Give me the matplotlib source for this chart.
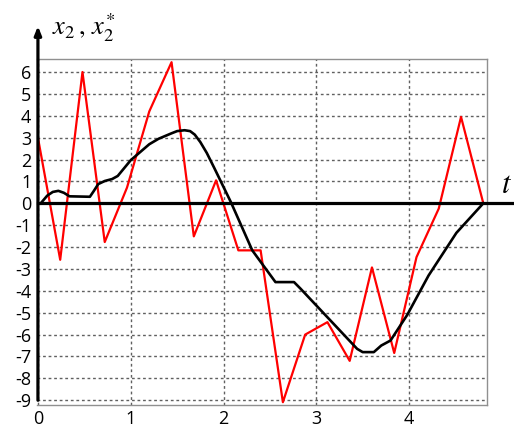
import numpy as np
import matplotlib
matplotlib.use('Agg')
import matplotlib.pyplot as plt

plt.rcParams['font.family'] = ['Open Sans', 'DejaVu Sans']
plt.rcParams['mathtext.fontset'] = 'stix'
plt.rcParams['axes.unicode_minus'] = False

# red curve: x2 (piecewise linear, step 0.24)
t_red = [0, 0.24, 0.48, 0.72, 0.96, 1.2, 1.44, 1.68, 1.92, 2.16, 2.4,
         2.64, 2.88, 3.12, 3.36, 3.6, 3.84, 4.08, 4.32, 4.56, 4.8]
x_red = [3.0, -2.58, 6.0, -1.77, 0.72, 4.2, 6.45, -1.51, 1.05, -2.15, -2.15,
         -9.09, -6.0, -5.43, -7.2, -2.93, -6.84, -2.46, -0.24, 3.95, 0.0]

# black curve: x2*
t_blk = [0.03, 0.1, 0.16, 0.22, 0.28, 0.34, 0.56, 0.6, 0.65, 0.72, 0.8,
         0.86, 1.0, 1.2, 1.3, 1.44, 1.5, 1.58, 1.64, 1.69, 1.75, 1.82, 1.9,
         2.08, 2.31, 2.56, 2.76, 2.83, 3.44, 3.5, 3.62, 3.7, 3.8, 3.98,
         4.21, 4.51, 4.8]
x_blk = [0.0, 0.35, 0.52, 0.57, 0.48, 0.32, 0.3, 0.55, 0.88, 1.02, 1.11,
         1.25, 1.97, 2.7, 2.95, 3.2, 3.3, 3.34, 3.3, 3.14, 2.8, 2.3, 1.62,
         0.05, -2.15, -3.6, -3.6, -3.9, -6.65, -6.8, -6.8, -6.5, -6.27,
         -5.1, -3.3, -1.35, 0.0]

x_ticks = [0, 1, 2, 3, 4]
y_ticks = list(range(-9, 7))

fig = plt.figure(figsize=(5.14, 4.3), dpi=100)
ax = fig.add_axes([0.072, 0.059, 0.8755, 0.803])

ax.set_xlim(-0.01, 4.84)
ax.set_ylim(-9.2, 6.58)
ax.set_xticks(x_ticks)
ax.set_yticks(y_ticks)
ax.tick_params(length=0, labelsize=13, pad=4)

ax.grid(True, color='#606060', linestyle=(0, (2, 2)), linewidth=1)
ax.set_axisbelow(True)
for s in ['top', 'right', 'bottom']:
    ax.spines[s].set_color('#909090')
    ax.spines[s].set_linewidth(1)
ax.spines['left'].set_visible(False)

ax.plot(t_red, x_red, color='red', lw=1.6, zorder=3)
ax.plot(t_blk, x_blk, color='black', lw=1.9, zorder=4, solid_joinstyle='round')

# zero line extending past the frame
ax.plot([0, 5.15], [0, 0], color='black', lw=2.3, clip_on=False, zorder=5)

# vertical axis with arrow
ax.annotate('', xy=(0, 8.1), xytext=(0, -9.0), xycoords='data',
            arrowprops=dict(arrowstyle='-|>,head_length=0.5,head_width=0.2',
                            color='black', lw=2.3, shrinkA=0, shrinkB=0),
            annotation_clip=False, zorder=6)

fig.text(0.162, 0.935, r'$x_2\,,\,x_2^{*}$', fontsize=19, ha='center', va='center')
fig.text(0.985, 0.57, r'$t$', fontsize=22, ha='center', va='center')

fig.savefig('out.png', dpi=100)
